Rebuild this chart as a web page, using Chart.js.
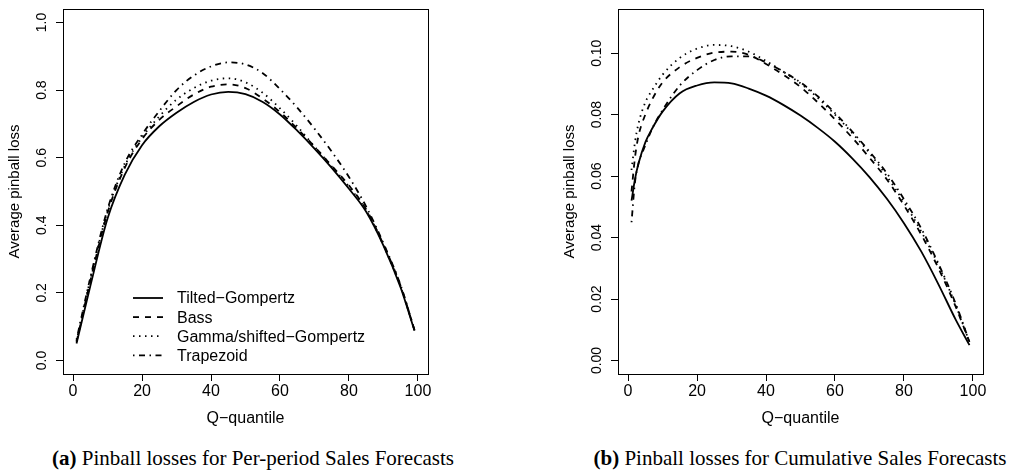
<!DOCTYPE html>
<html>
<head>
<meta charset="utf-8">
<script src="https://cdn.jsdelivr.net/npm/chart.js@4.4.1/dist/chart.umd.min.js"></script>
<style>
  body { margin: 0; width: 1011px; height: 474px; background: #fff; position: relative; overflow: hidden; }
  canvas { position: absolute; top: 0; }
  #chartA { left: 0; }
  #chartB { left: 555px; }
  .cap { position: absolute; top: 446px; font-family: "Liberation Serif", serif; font-size: 21px;
         white-space: nowrap; transform: translateX(-50%); color: #000; }
</style>
</head>
<body>
<canvas id="chartA" width="500" height="428"></canvas>
<canvas id="chartB" width="456" height="428"></canvas>
<div class="cap" style="left:253px"><b>(a)</b> Pinball losses for Per-period Sales Forecasts</div>
<div class="cap" style="left:800px"><b>(b)</b> Pinball losses for Cumulative Sales Forecasts</div>
<script>
// series names (legend)
const seriesNames = ['Tilted\u2212Gompertz', 'Bass', 'Gamma/shifted\u2212Gompertz', 'Trapezoid'];

// (a) per-period
const quantA = [1, 5, 10, 15, 20, 25, 30, 35, 40, 45, 50, 55, 60, 65, 70, 75, 80, 85, 90, 95, 99];
const tiltedA = [0.050, 0.220, 0.420, 0.550, 0.637, 0.693, 0.733, 0.765, 0.787, 0.795, 0.788, 0.765, 0.728, 0.680, 0.627, 0.570, 0.508, 0.440, 0.340, 0.215, 0.088];
const bassA   = [0.055, 0.235, 0.437, 0.570, 0.655, 0.712, 0.752, 0.787, 0.810, 0.817, 0.806, 0.775, 0.735, 0.686, 0.633, 0.576, 0.518, 0.447, 0.343, 0.220, 0.090];
const gammaA  = [0.058, 0.240, 0.442, 0.576, 0.660, 0.722, 0.772, 0.806, 0.828, 0.835, 0.823, 0.792, 0.746, 0.693, 0.633, 0.574, 0.514, 0.444, 0.341, 0.217, 0.090];
const trapA   = [0.062, 0.245, 0.448, 0.584, 0.668, 0.738, 0.800, 0.843, 0.870, 0.882, 0.876, 0.850, 0.803, 0.748, 0.686, 0.618, 0.543, 0.455, 0.347, 0.222, 0.090];

// (b) cumulative
const quantB = [1, 2, 3, 5, 7, 10, 15, 20, 25, 30, 35, 40, 45, 50, 55, 60, 65, 70, 75, 80, 85, 90, 95, 99];
const tiltedB = [0.052, 0.059, 0.064, 0.071, 0.0755, 0.081, 0.087, 0.0895, 0.0905, 0.0902, 0.0885, 0.0862, 0.0832, 0.0797, 0.0757, 0.0712, 0.0658, 0.0597, 0.0527, 0.0447, 0.0355, 0.0248, 0.0133, 0.005];
const bassB   = [0.055, 0.066, 0.073, 0.080, 0.085, 0.0905, 0.0955, 0.0985, 0.1002, 0.1005, 0.0995, 0.0965, 0.093, 0.089, 0.084, 0.0785, 0.0725, 0.066, 0.059, 0.0505, 0.041, 0.030, 0.0175, 0.006];
const gammaB  = [0.062, 0.071, 0.077, 0.084, 0.088, 0.093, 0.0985, 0.1015, 0.1027, 0.1023, 0.1005, 0.0975, 0.094, 0.0902, 0.0855, 0.080, 0.074, 0.0675, 0.060, 0.0515, 0.042, 0.031, 0.018, 0.006];
const trapB   = [0.045, 0.058, 0.064, 0.070, 0.0755, 0.0815, 0.0895, 0.0945, 0.0978, 0.099, 0.099, 0.097, 0.094, 0.0905, 0.086, 0.0805, 0.0745, 0.068, 0.061, 0.0525, 0.043, 0.0315, 0.0185, 0.006];

// axis ticks
const xTicks = [0, 20, 40, 60, 80, 100];
const xTickLabels = ['0', '20', '40', '60', '80', '100'];
const yTicksA = [0, 0.2, 0.4, 0.6, 0.8, 1.0];
const yTickLabelsA = ['0.0', '0.2', '0.4', '0.6', '0.8', '1.0'];
const yTicksB = [0, 0.02, 0.04, 0.06, 0.08, 0.10];
const yTickLabelsB = ['0.00', '0.02', '0.04', '0.06', '0.08', '0.10'];

const dashes = [[], [6, 6], [1.5, 4.5], [1.5, 4.5, 6, 4.5]];
const sans = 'Liberation Sans';

function toPts(xs, ys) {
  return xs.map((x, i) => ({ x: x, y: ys[i] }));
}

function makeSets(xs, series) {
  return series.map((ys, i) => ({
    label: seriesNames[i],
    data: toPts(xs, ys),
    borderColor: '#000',
    borderWidth: 1.8,
    borderDash: dashes[i],
    borderCapStyle: 'butt',
    pointRadius: 0,
    fill: false,
    cubicInterpolationMode: 'monotone'
  }));
}

// R-like box round the plot region
const boxPlugin = {
  id: 'box',
  afterDraw(chart) {
    const { ctx, chartArea: a } = chart;
    ctx.save();
    ctx.strokeStyle = '#000';
    ctx.lineWidth = 1;
    ctx.strokeRect(Math.round(a.left) + 0.5, Math.round(a.top) + 0.5,
      Math.round(a.right - a.left), Math.round(a.bottom - a.top));
    ctx.restore();
  }
};

// legend inside the plot, bottom left
const innerLegend = {
  id: 'innerLegend',
  afterDraw(chart) {
    const { ctx, chartArea: a } = chart;
    chart.data.datasets.forEach((ds, i) => {
      const y = a.bottom - 76 + i * 19.1;
      ctx.save();
      ctx.strokeStyle = '#000';
      ctx.lineWidth = ds.borderWidth;
      ctx.setLineDash(ds.borderDash);
      ctx.beginPath();
      ctx.moveTo(a.left + 70, y);
      ctx.lineTo(a.left + 100, y);
      ctx.stroke();
      ctx.setLineDash([]);
      ctx.fillStyle = '#000';
      ctx.font = '16px "' + sans + '"';
      ctx.textBaseline = 'middle';
      ctx.fillText(ds.label, a.left + 114, y + 1);
      ctx.restore();
    });
  }
};

function makeChart(id, datasets, yMin, yMax, yTicks, yLabels, yPad, padRight, extra) {
  return new Chart(document.getElementById(id), {
    type: 'line',
    data: { datasets: datasets },
    options: {
      responsive: false,
      animation: false,
      layout: { padding: { top: 9, right: padRight, left: 0, bottom: 0 } },
      plugins: { legend: { display: false }, tooltip: { enabled: false } },
      scales: {
        x: {
          type: 'linear',
          min: -2.92,
          max: 102.92,
          afterBuildTicks: s => { s.ticks = xTicks.map(v => ({ value: v })); },
          afterFit: s => { s.height = 54; s.paddingLeft = 0; s.paddingRight = 0; },
          ticks: {
            autoSkip: false, maxRotation: 0, padding: 1, color: '#000',
            font: { family: sans, size: 16 },
            callback: (v, i) => xTickLabels[i]
          },
          grid: { drawOnChartArea: false, tickLength: 7, color: '#000' },
          border: { display: false },
          title: { display: true, text: 'Q\u2212quantile', color: '#000', font: { family: sans, size: 16 }, padding: 0 }
        },
        y: {
          min: yMin,
          max: yMax,
          afterBuildTicks: s => { s.ticks = yTicks.map(v => ({ value: v })); },
          afterFit: s => { s.width = 63; s.paddingTop = 0; s.paddingBottom = 0; },
          ticks: {
            autoSkip: false, minRotation: 90, maxRotation: 90, crossAlign: 'center',
            padding: yPad, color: '#000',
            font: { family: sans, size: 14 },
            callback: (v, i) => yLabels[i]
          },
          grid: { drawOnChartArea: false, tickLength: 7, color: '#000' },
          border: { display: false },
          title: { display: true, text: 'Average pinball loss', color: '#000', font: { family: sans, size: 15 }, padding: { top: 6, bottom: 0 } }
        }
      }
    },
    plugins: [boxPlugin].concat(extra)
  });
}

makeChart('chartA', makeSets(quantA, [tiltedA, bassA, gammaA, trapA]),
  -0.04, 1.04, yTicksA, yTickLabelsA, 4, 72, [innerLegend]);
makeChart('chartB', makeSets(quantB, [tiltedB, bassB, gammaB, trapB]),
  -0.0044, 0.1144, yTicksB, yTickLabelsB, 0, 28, []);
</script>
</body>
</html>
